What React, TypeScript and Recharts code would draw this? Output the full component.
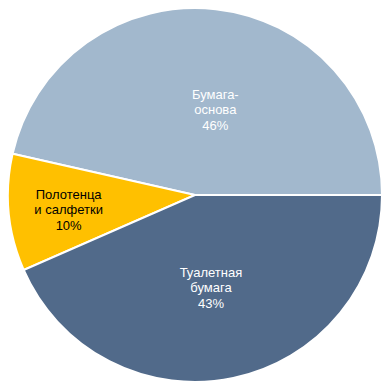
import { PieChart, Pie, Cell } from "recharts";

const segments = ["Бумага-основа", "Полотенца и салфетки", "Туалетная бумага"];
const shares = [46, 10, 43];
// label lines as they wrap inside each slice
const labelLines = [
  ["Бумага-", "основа"],
  ["Полотенца", "и салфетки"],
  ["Туалетная", "бумага"],
];

const colors = ["#A2B8CD", "#FFC000", "#516A8A"];
const textColors = ["#FFFFFF", "#000000", "#FFFFFF"];
// radial position (fraction of radius) and angle nudge for each label
const labelPlace = [
  { r: 0.47, da: -7 },
  { r: 0.68, da: 1 },
  { r: 0.5, da: -2 },
];

const data = segments.map((name, i) => ({ name, value: shares[i] }));

const RADIAN = Math.PI / 180;

const renderLabel = (props: any) => {
  const { cx, cy, midAngle, outerRadius, index } = props;
  const place = labelPlace[index];
  const angle = (midAngle + place.da) * RADIAN;
  const r = outerRadius * place.r;
  const x = cx + r * Math.cos(angle);
  const y = cy - r * Math.sin(angle);
  const lines = [...labelLines[index], `${shares[index]}%`];
  const lh = 15.5;
  const top = y - ((lines.length - 1) * lh) / 2;
  return (
    <text
      x={x}
      y={top}
      fill={textColors[index]}
      textAnchor="middle"
      dominantBaseline="central"
      fontFamily="'Liberation Sans', Arial, sans-serif"
      fontSize={13}
    >
      {lines.map((ln, i) => (
        <tspan key={i} x={x} y={top + i * lh}>
          {ln}
        </tspan>
      ))}
    </text>
  );
};

export default function App() {
  return (
    <div style={{ position: "absolute", left: 0, top: 0, width: 382, height: 383, background: "#fff" }}>
      <PieChart width={382} height={383} margin={{ top: 0, right: 0, bottom: 0, left: 0 }}>
        <Pie
          data={data}
          dataKey="value"
          nameKey="name"
          cx={195}
          cy={195}
          outerRadius={187}
          startAngle={0}
          endAngle={360}
          stroke="#FFFFFF"
          strokeWidth={2}
          labelLine={false}
          label={renderLabel}
          isAnimationActive={false}
        >
          {data.map((d, i) => (
            <Cell key={d.name} fill={colors[i]} />
          ))}
        </Pie>
      </PieChart>
    </div>
  );
}
